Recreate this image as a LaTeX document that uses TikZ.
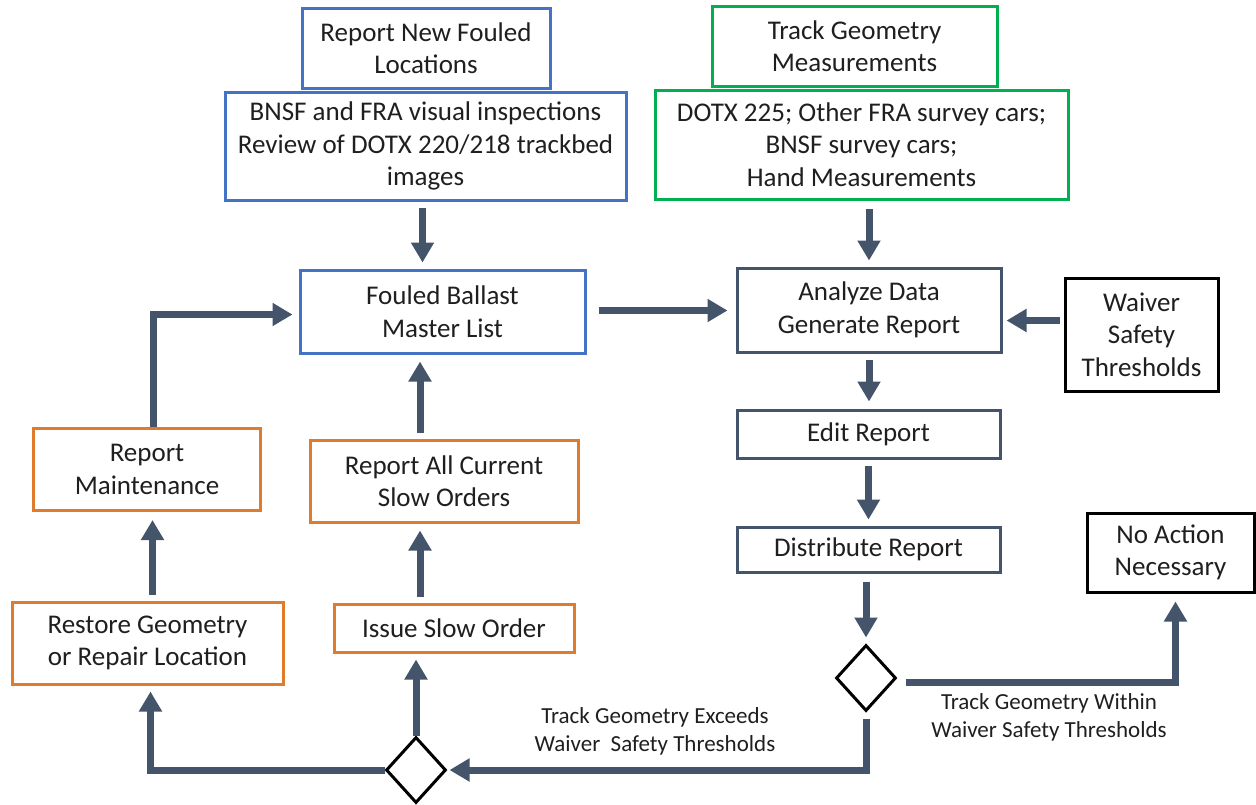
\documentclass[tikz,border=0pt]{standalone}
\usepackage{fontspec}
\setmainfont{Carlito}
\usetikzlibrary{arrows.meta,shapes.geometric,calc}
\definecolor{cblue}{HTML}{4472C4}
\definecolor{cgreen}{HTML}{00B050}
\definecolor{corange}{HTML}{E07B2B}
\definecolor{cslate}{HTML}{44546A}
\begin{document}
\begin{tikzpicture}[x=1pt,y=-1pt,
  box/.style={draw, line width=3pt, fill=white, align=center, inner sep=0pt,
    font=\fontsize{27}{32.5}\selectfont, text=black!88},
  bbox/.style={box, draw=cblue},
  gbox/.style={box, draw=cgreen},
  obox/.style={box, draw=corange},
  sbox/.style={box, draw=cslate},
  kbox/.style={box, draw=black},
  dia/.style={diamond, draw=black, line width=3pt, fill=white, inner sep=0pt,
    minimum width=60pt, minimum height=66pt},
  arr/.style={draw=cslate, line width=7pt, -{Triangle[width=22pt,length=20pt]}},
  lbl/.style={align=center, font=\fontsize{23}{28}\selectfont, text=black!88}]
\useasboundingbox (0,0) rectangle (1256,804);
% top boxes
\node[bbox, minimum width=248pt, minimum height=80pt] (rnf) at (426,48) {Report New Fouled\\Locations};
\node[bbox, minimum width=401pt, minimum height=108pt] (bnsf) at (425.5,146) {BNSF and FRA visual inspections\\Review of DOTX 220/218 trackbed\\images};
\node[gbox, minimum width=285pt, minimum height=80pt] (tgm) at (854.5,46) {Track Geometry\\Measurements};
\node[gbox, minimum width=413pt, minimum height=109pt] (dotx) at (861.5,144.5) {DOTX 225; Other FRA survey cars;\\BNSF survey cars;\\Hand Measurements};
% middle
\node[bbox, minimum width=285pt, minimum height=83pt] (fbml) at (442.5,311.5) {Fouled Ballast\\Master List};
\node[sbox, minimum width=264pt, minimum height=84pt] (ana) at (869,310) {Analyze Data\\Generate Report};
\node[kbox, minimum width=153pt, minimum height=113pt] (waiver) at (1141.5,334.5) {Waiver\\Safety\\Thresholds};
\node[sbox, minimum width=263pt, minimum height=48pt] (edit) at (868.5,434) {Edit Report};
\node[sbox, minimum width=263pt, minimum height=45pt] (dist) at (868.5,549.5) {Distribute Report};
\node[kbox, minimum width=167pt, minimum height=79pt] (noact) at (1170.5,552.5) {No Action\\Necessary};
% orange
\node[obox, minimum width=227pt, minimum height=82pt] (rm) at (147,469.5) {Report\\Maintenance};
\node[obox, minimum width=268pt, minimum height=82pt] (rac) at (444,481) {Report All Current\\Slow Orders};
\node[obox, minimum width=271pt, minimum height=82pt] (rest) at (147.5,643) {Restore Geometry\\or Repair Location};
\node[obox, minimum width=240pt, minimum height=48pt] (iso) at (454,628) {Issue Slow Order};
% diamonds
\node[dia] (d1) at (866,678) {};
\node[dia] (d2) at (416,770) {};
% labels
\node[lbl] (l1) at (655,731) {Track Geometry Exceeds\\Waiver\ \ Safety Thresholds};
\node[lbl] (l2) at (1049,717) {Track Geometry Within\\Waiver Safety Thresholds};
% connectors
\draw[arr, shorten <=6pt, shorten >=6pt] ([xshift=-3pt]bnsf.south) -- ([xshift=-3pt]bnsf.south |- fbml.north);
\draw[arr, shorten <=8pt, shorten >=6pt] (ana.north |- dotx.south) -- (ana.north);
\draw[arr, shorten <=12pt, shorten >=8pt] ([yshift=1pt]fbml.east) -- ([yshift=1pt]fbml.east -| ana.west);
\draw[arr, shorten <=4pt, shorten >=4pt] ([yshift=14pt]waiver.west) -- ([yshift=14pt]waiver.west -| ana.east);
\draw[arr, shorten <=6pt, shorten >=7pt] (ana.south) -- (ana.south |- edit.north);
\draw[arr, shorten <=6pt, shorten >=6pt] (edit.south) -- (edit.south |- dist.north);
\draw[arr, shorten <=8pt, shorten >=6pt] (d1.north |- dist.south) -- (d1.north);
\draw[arr, shorten <=8pt, shorten >=8pt] ([yshift=-4pt]d1.east) -| ([xshift=5pt]noact.south);
\draw[arr, shorten <=6pt, shorten >=2pt] (d1.south) |- (d2.east);
\draw[arr, shorten >=6pt] (d2.west) -| ([xshift=3pt]rest.south);
\draw[arr, shorten >=6pt] (d2.north) -- (d2.north |- iso.south);
\draw[arr, shorten <=6pt, shorten >=7pt] ([xshift=4pt]d2.north |- iso.north) -- ([xshift=4pt]d2.north |- rac.south);
\draw[arr, shorten <=6pt, shorten >=7pt] ([xshift=4pt]d2.north |- rac.north) -- ([xshift=4pt]d2.north |- fbml.south);
\draw[arr, shorten <=6pt, shorten >=8pt] ([xshift=5pt]rest.north) -- ([xshift=5pt]rest.north |- rm.south);
\draw[arr, shorten >=6pt] ([xshift=6pt]rm.north) |- ([yshift=-3pt]fbml.west);
\end{tikzpicture}
\end{document}
